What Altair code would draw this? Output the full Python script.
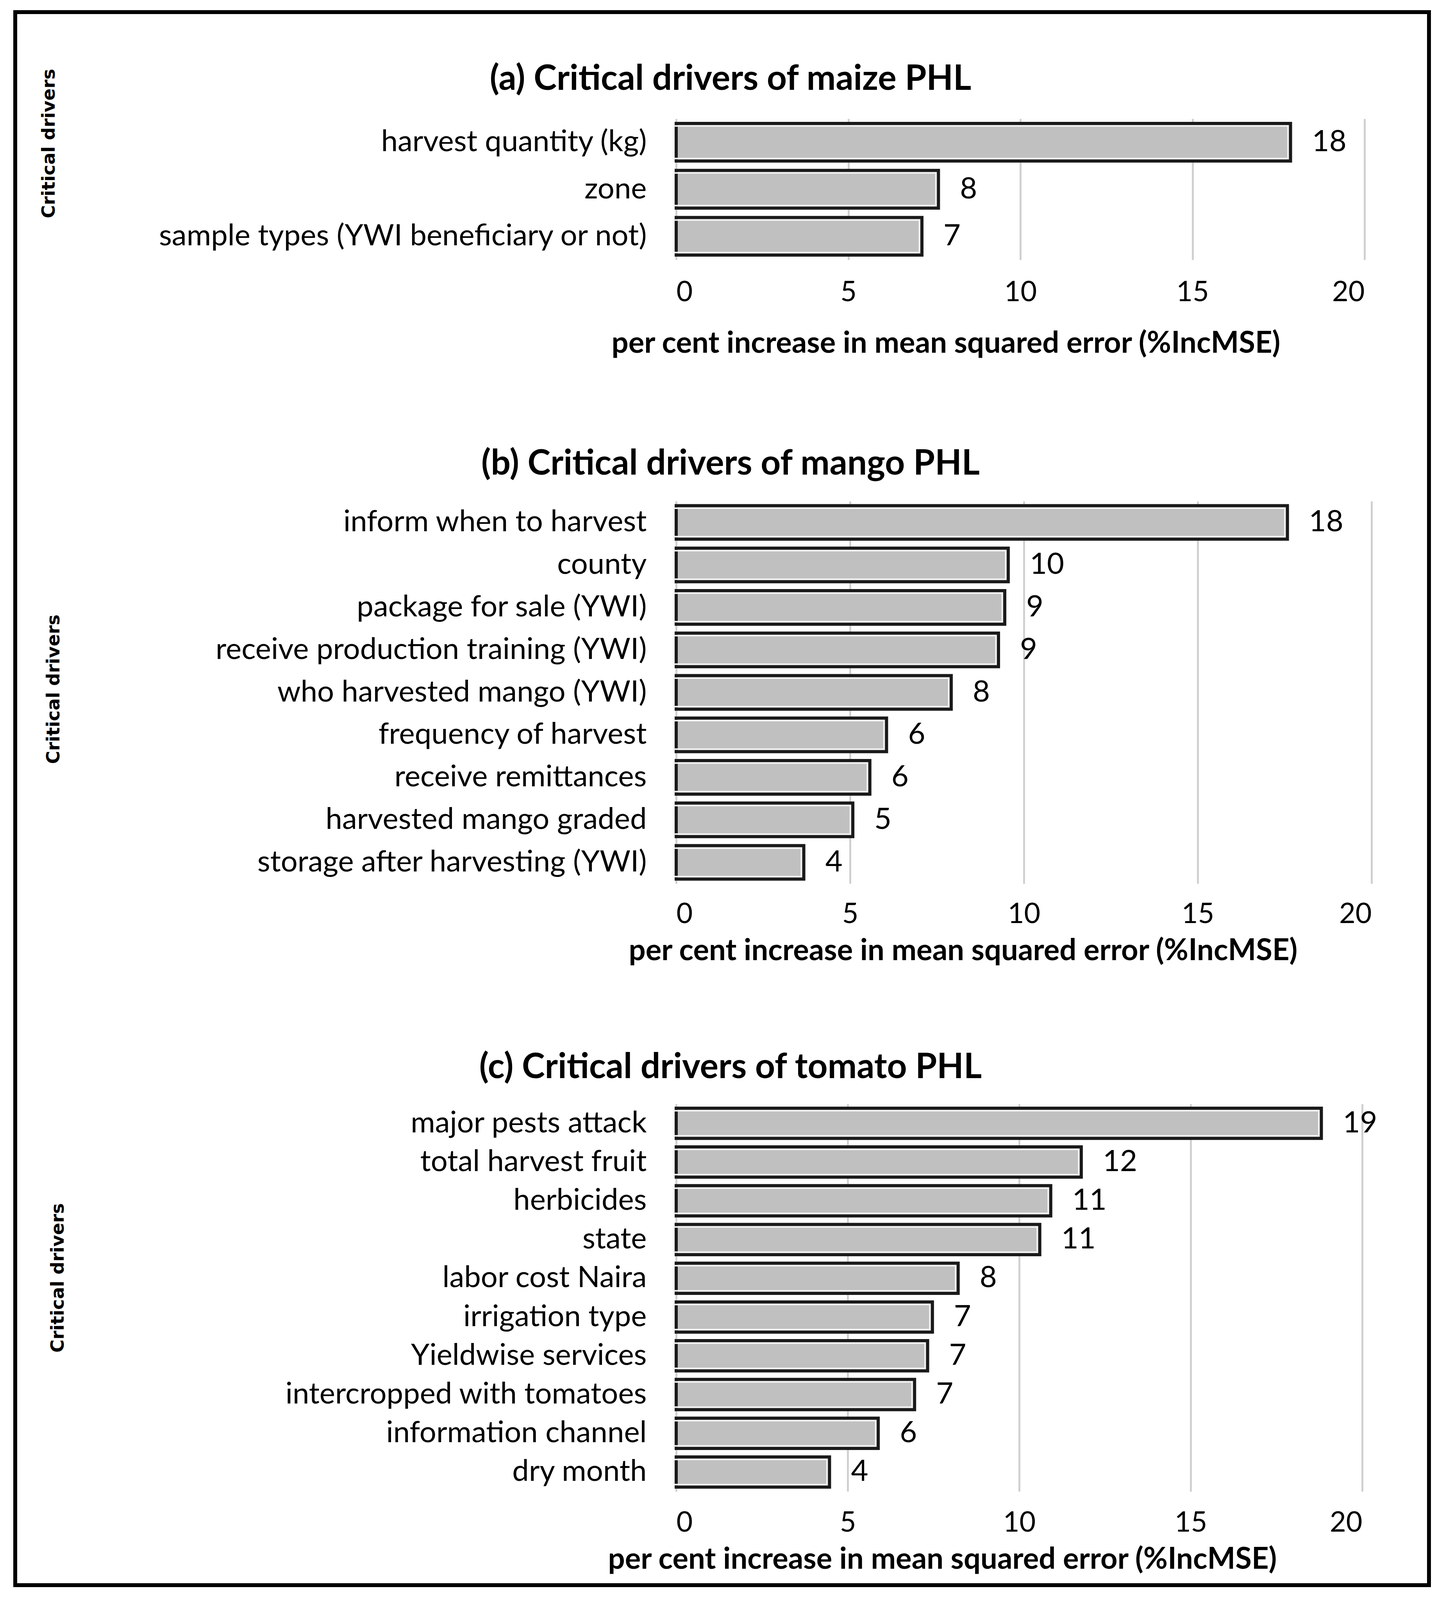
import altair as alt
import pandas as pd

# ---------------- data ----------------
maize_drivers = ["harvest quantity (kg)", "zone", "sample types (YWI beneficiary or not)"]
maize_values = [17.85, 7.62, 7.14]

mango_drivers = ["inform when to harvest", "county", "package for sale (YWI)",
                 "receive production training (YWI)", "who harvested mango (YWI)",
                 "frequency of harvest", "receive remittances", "harvested mango graded",
                 "storage after harvesting (YWI)"]
mango_values = [17.58, 9.55, 9.45, 9.27, 7.91, 6.05, 5.57, 5.08, 3.67]

tomato_drivers = ["major pests attack", "total harvest fruit", "herbicides", "state",
                  "labor cost Naira", "irrigation type", "Yieldwise services",
                  "intercropped with tomatoes", "information channel", "dry month"]
tomato_values = [18.81, 11.81, 10.92, 10.60, 8.22, 7.47, 7.33, 6.95, 5.89, 4.47]

x_ticks = [0, 5, 10, 15, 20]
x_title = "per cent increase in mean squared error (%IncMSE)"
y_title = "Critical drivers"

LABEL_FONT = "Lato"
LABEL_SIZE = 76
TICK_SIZE = 72

one = pd.DataFrame({"v": [0]})


def frame_piece(x1, x2, y1, y2):
    # piece of the outer figure frame (decoration, not data)
    return alt.Chart(one).mark_rect(color="black").encode(
        x=alt.value(x1), x2=alt.value(x2), y=alt.value(y1), y2=alt.value(y2))


def panel(title, drivers, values, width, height, pad_inner,
          top, bottom, title_dy, ytx, yty, xtx, xty, xlab_pad,
          top_edge=False, bottom_edge=False):
    df = pd.DataFrame({"driver": drivers, "value": values})
    n = len(drivers)
    bandwidth = height / n * (1 - pad_inner)
    y = alt.Y("driver:N", sort=drivers,
              scale=alt.Scale(paddingInner=pad_inner, paddingOuter=pad_inner / 2),
              axis=alt.Axis(title=y_title, titleX=ytx, titleY=yty, titleAngle=270,
                            titleAlign="center", titleBaseline="middle",
                            titleFont="DejaVu Sans", titleFontSize=46,
                            titleFontWeight="bold", titleColor="black",
                            labelFont=LABEL_FONT, labelFontSize=LABEL_SIZE,
                            labelColor="black", labelPadding=76, labelLimit=3000,
                            domain=False, ticks=False, tickSize=0, grid=False))
    x = alt.X("value:Q",
              scale=alt.Scale(domain=[0, 20], nice=False, zero=True),
              axis=alt.Axis(values=x_ticks, format="d", title=x_title,
                            titleX=xtx, titleY=xty, titleAlign="center",
                            titleBaseline="middle", titleFont=LABEL_FONT,
                            titleFontSize=76, titleFontWeight="bold", titleColor="black",
                            labelFont=LABEL_FONT, labelFontSize=TICK_SIZE,
                            labelColor="black", labelPadding=xlab_pad,
                            labelBaseline="middle",
                            grid=True, gridColor="#d0d0d0", gridWidth=5,
                            domain=False, ticks=False, tickSize=0))
    base = alt.Chart(df).encode(x=x, y=y)
    bars = base.mark_bar(fill="#c0c0c0", stroke="#1a1a1a", strokeWidth=8)
    inner = base.mark_bar(fillOpacity=0, stroke="#f2f2f2", strokeWidth=4,
                          xOffset=-6.5, x2Offset=6.5, size=bandwidth - 13)
    text = base.mark_text(align="left", baseline="middle", dx=55,
                          font=LABEL_FONT, fontSize=LABEL_SIZE, color="black").encode(
        text=alt.Text("value:Q", format=".0f"))
    layers = [bars, inner, text,
              frame_piece(-1697, -1687, top, bottom),
              frame_piece(1922, 1932, top, bottom)]
    if top_edge:
        layers.append(frame_piece(-1697, 1932, top, top + 10))
    if bottom_edge:
        layers.append(frame_piece(-1697, 1932, bottom - 10, bottom))
    return alt.layer(*layers).properties(
        width=width, height=height,
        title=alt.TitleParams(text=title, anchor="start", align="center", dx=139,
                              dy=title_dy, offset=0, baseline="middle",
                              font=LABEL_FONT, fontSize=89, fontWeight="bold",
                              color="black", frame="group"))


pa = panel("(a) Critical drivers of maize PHL", maize_drivers, maize_values,
           1762, 361, 0.2, -278, 739, 266, -1606, 63, 690, 214, 83, top_edge=True)
pb = panel("(b) Critical drivers of mango PHL", mango_drivers, mango_values,
           1780, 979, 0.21, -240, 1283, 234, -1594, 481, 734, 172, 78)
pc = panel("(c) Critical drivers of tomato PHL", tomato_drivers, tomato_values,
           1756, 992, 0.22, -260, 1237, 256, -1583, 445, 681, 174, 80, bottom_edge=True)

chart = alt.vconcat(pa, pb, pc, spacing=0).properties(
    padding={"left": 26, "top": 18, "right": 10, "bottom": 10},
    background="white"
).configure_view(stroke="transparent", strokeWidth=0)

chart.save("out.html", embed_options={"renderer": "svg", "actions": False})
